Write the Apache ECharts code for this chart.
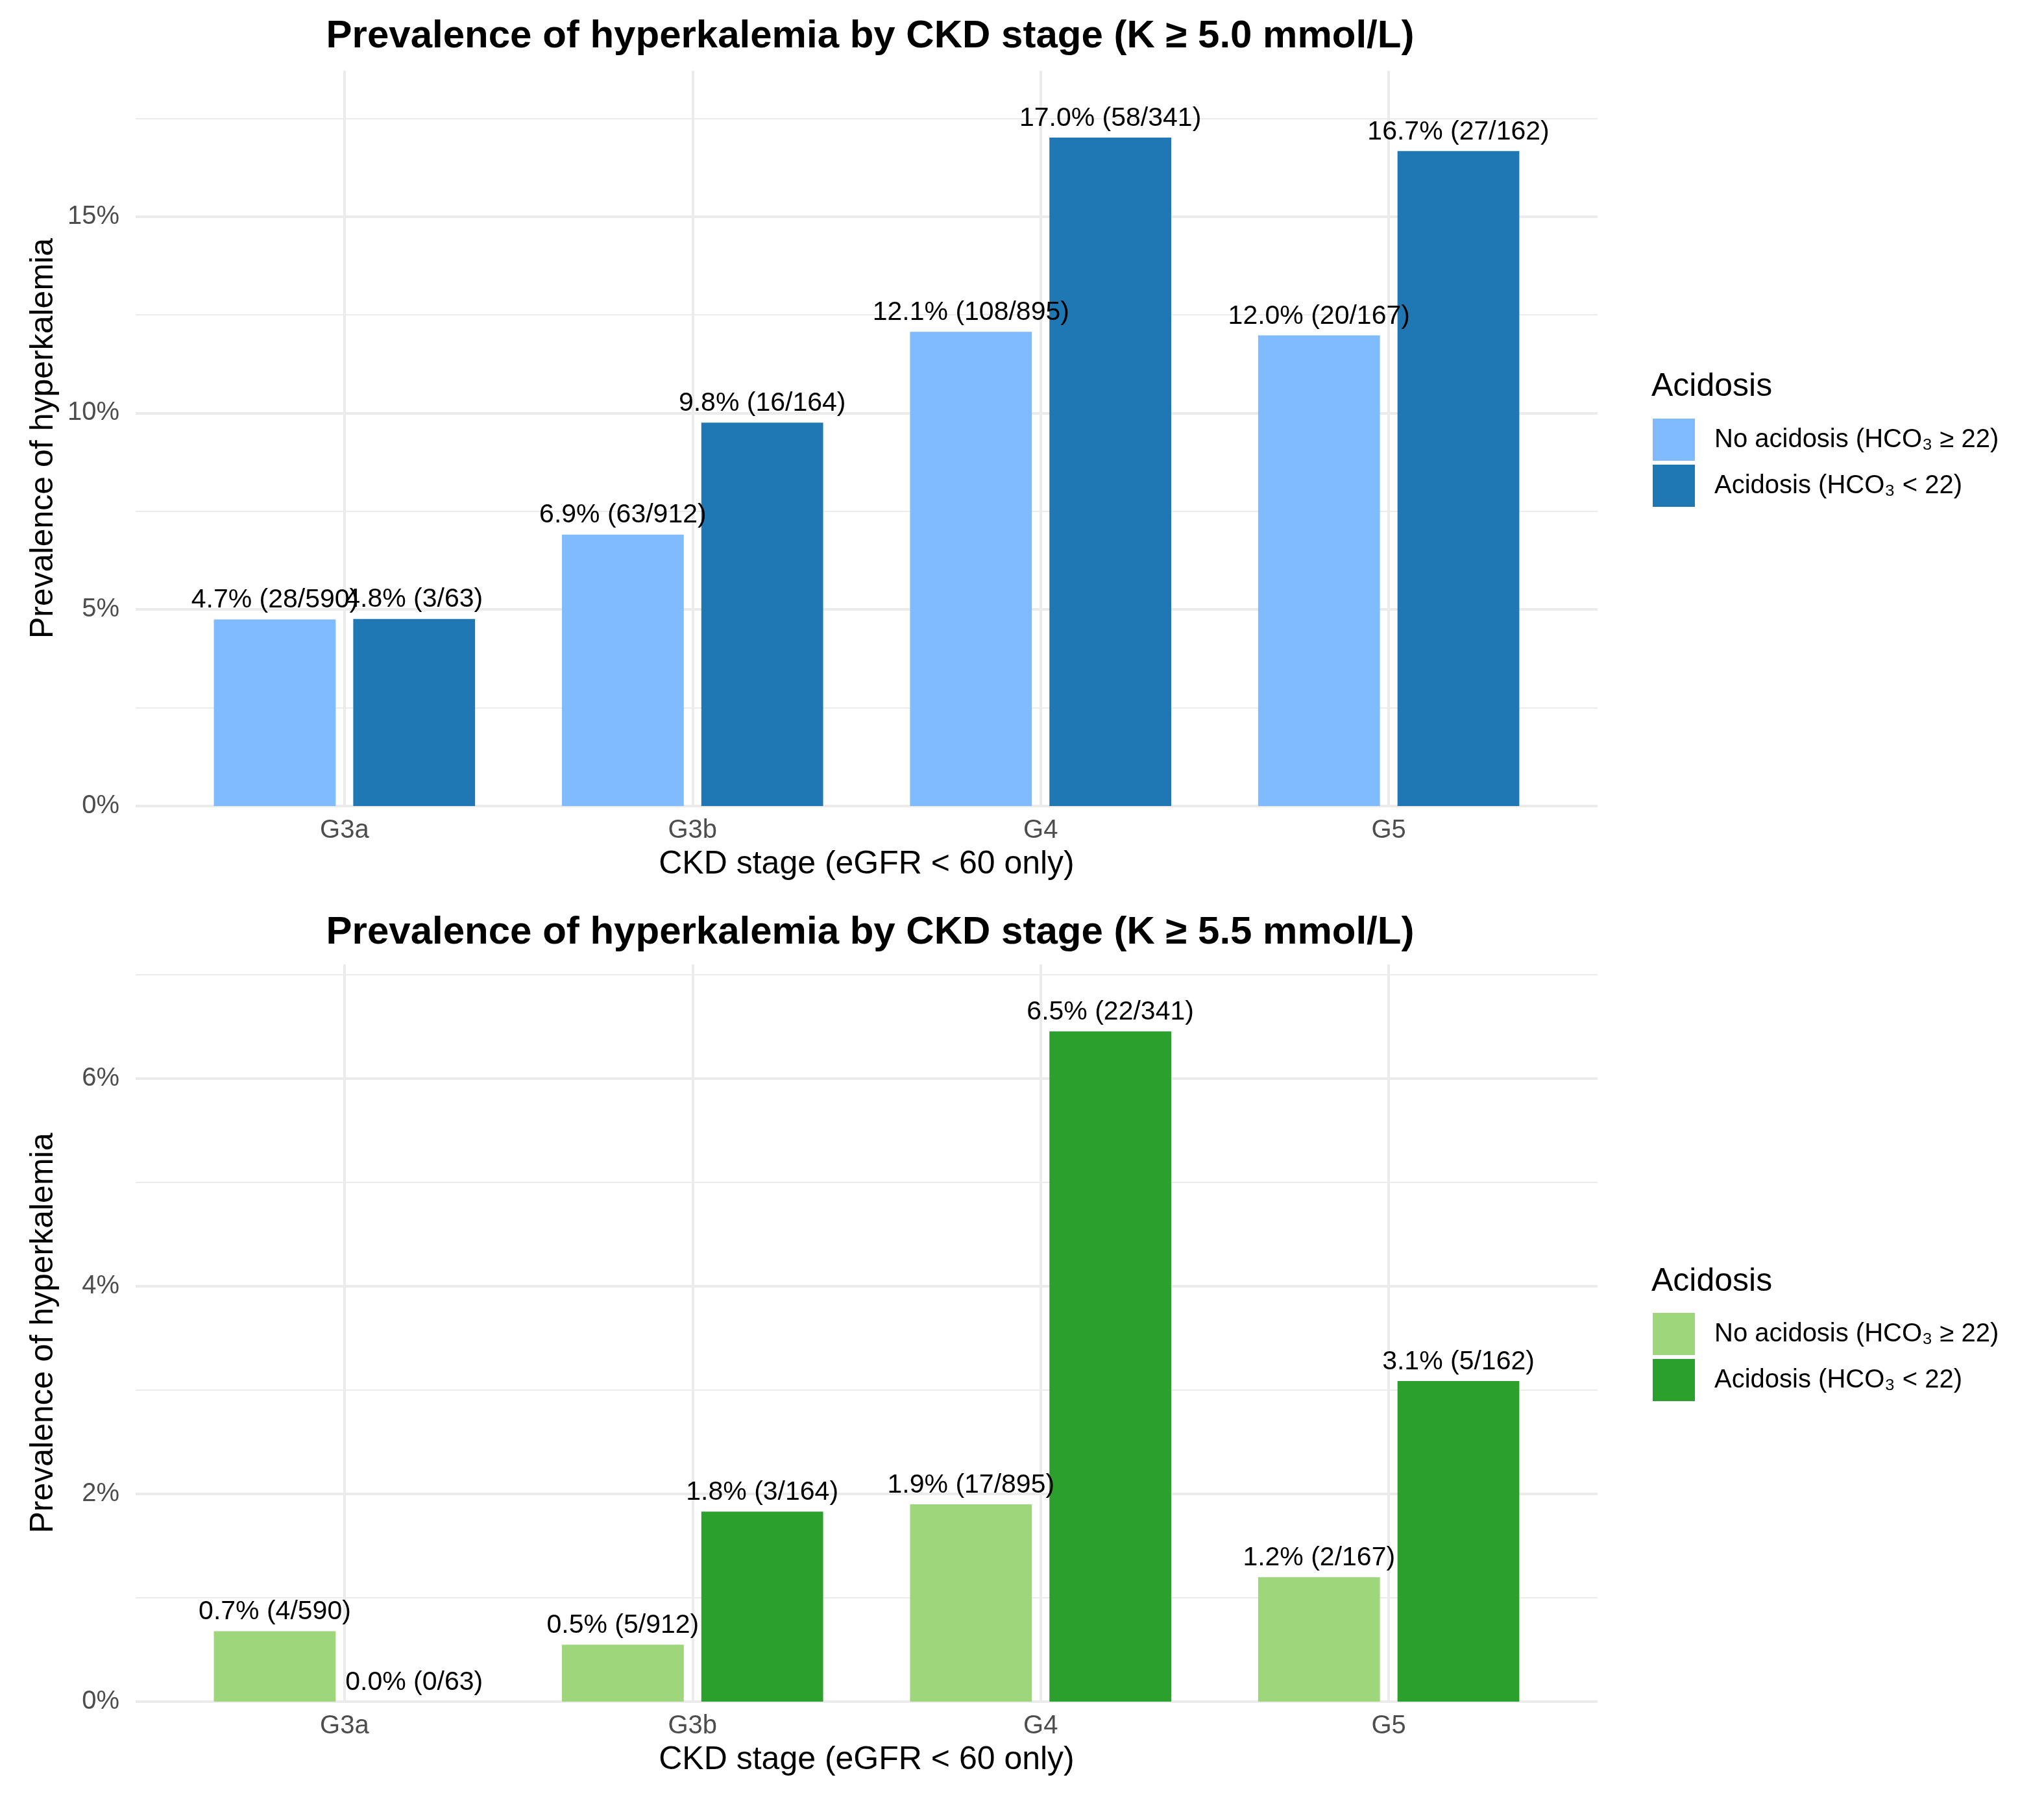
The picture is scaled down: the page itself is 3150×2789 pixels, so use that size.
<!DOCTYPE html>
<html>
<head>
<meta charset="utf-8">
<script src="https://cdn.jsdelivr.net/npm/echarts@6/dist/echarts.min.js"></script>
<style>
  html, body { margin: 0; padding: 0; background: #fff; }
  #chart { width: 3150px; height: 2789px; }
</style>
</head>
<body>
<div id="chart"></div>
<script>
// CKD stages (x categories)
var stages = ['G3a', 'G3b', 'G4', 'G5'];
var groupNames = ['No acidosis (HCO\u2083 \u2265 22)', 'Acidosis (HCO\u2083 < 22)'];

// K >= 5.0 mmol/L : cases / totals
var k50NoAcidCases = [28, 63, 108, 20];
var k50NoAcidTotal = [590, 912, 895, 167];
var k50AcidCases = [3, 16, 58, 27];
var k50AcidTotal = [63, 164, 341, 162];

// K >= 5.5 mmol/L : cases / totals
var k55NoAcidCases = [4, 5, 17, 2];
var k55NoAcidTotal = [590, 912, 895, 167];
var k55AcidCases = [0, 3, 22, 5];
var k55AcidTotal = [63, 164, 341, 162];

// y ticks (percent)
var topTicks = [0, 5, 10, 15];
var topMinor = [2.5, 7.5, 12.5, 17.5];
var botTicks = [0, 2, 4, 6];
var botMinor = [1, 3, 5, 7];

var FONT = "'Liberation Sans', Arial, 'DejaVu Sans', sans-serif";
var GRID_COL = '#EBEBEB';
var xPos = stages.map(function (s, i) { return i + 1; });

function pct(c, t) { return c.map(function (v, i) { return v / t[i] * 100; }); }

var panels = [
  {
    title: 'Prevalence of hyperkalemia by CKD stage (K \u2265 5.0 mmol/L)',
    cases: [k50NoAcidCases, k50AcidCases], totals: [k50NoAcidTotal, k50AcidTotal],
    colors: ['#80BAFF', '#1F77B4'], ticks: topTicks, minor: topMinor,
    gridTop: 109, gridBottom: 2789 - 1242, titleTop: 21, legendTop: 640, legendTitleTop: 566, suffix: ''
  },
  {
    title: 'Prevalence of hyperkalemia by CKD stage (K \u2265 5.5 mmol/L)',
    cases: [k55NoAcidCases, k55AcidCases], totals: [k55NoAcidTotal, k55AcidTotal],
    colors: ['#9ED67B', '#2CA02C'], ticks: botTicks, minor: botMinor,
    gridTop: 1486, gridBottom: 2789 - 2622, titleTop: 1402, legendTop: 2018, legendTitleTop: 1945, suffix: ' '
  }
];

var option = {
  animation: false,
  backgroundColor: '#fff',
  textStyle: { fontFamily: FONT },
  title: [], legend: [], grid: [], xAxis: [], yAxis: [], series: []
};

panels.forEach(function (p, k) {
  var vals = [pct(p.cases[0], p.totals[0]), pct(p.cases[1], p.totals[1])];
  var ymax = Math.max.apply(null, vals[0].concat(vals[1])) * 1.1;

  option.title.push({
    text: p.title, left: 1336, top: p.titleTop, textAlign: 'center',
    textStyle: { fontFamily: FONT, fontSize: 60, fontWeight: 'bold', color: '#000' }
  });
  option.title.push({
    text: 'Acidosis', left: 2540, top: p.legendTitleTop,
    textStyle: { fontFamily: FONT, fontSize: 50, fontWeight: 'normal', color: '#000' }
  });

  option.grid.push({ left: 209, right: 688, top: p.gridTop, bottom: p.gridBottom });

  option.xAxis.push({
    type: 'value', gridIndex: k, min: 0.4, max: 4.6,
    axisLine: { show: false },
    axisTick: { show: false, customValues: xPos },
    axisLabel: {
      customValues: xPos, margin: 18, fontSize: 40, color: '#4D4D4D', fontFamily: FONT,
      formatter: function (v) { return stages[Math.round(v) - 1] || ''; }
    },
    splitLine: { show: true, lineStyle: { color: GRID_COL, width: 4 } },
    name: 'CKD stage (eGFR < 60 only)', nameLocation: 'middle', nameGap: 65,
    nameTextStyle: { fontSize: 50, color: '#000', fontFamily: FONT }
  });

  option.yAxis.push({
    type: 'value', gridIndex: k, min: 0, max: ymax,
    axisLine: { show: false },
    axisTick: { show: false, customValues: p.ticks },
    axisLabel: {
      customValues: p.ticks, margin: 25, fontSize: 40, color: '#4D4D4D', fontFamily: FONT,
      formatter: function (v) { return v + '%'; }
    },
    splitLine: { show: true, lineStyle: { color: GRID_COL, width: 4 } },
    name: 'Prevalence of hyperkalemia', nameLocation: 'middle', nameRotate: 90, nameGap: 117,
    nameTextStyle: { fontSize: 50, color: '#000', fontFamily: FONT }
  });
  // minor grid lines
  option.yAxis.push({
    type: 'value', gridIndex: k, min: 0, max: ymax, position: 'left',
    axisLine: { show: false },
    axisTick: { show: false, customValues: p.minor },
    axisLabel: { show: false },
    splitLine: { show: true, lineStyle: { color: GRID_COL, width: 2 } }
  });

  var names = groupNames.map(function (n) { return n + p.suffix; });
  option.legend.push({
    orient: 'vertical', left: 2542, top: p.legendTop,
    itemWidth: 65, itemHeight: 65, itemGap: 6, icon: 'rect',
    data: names, selectedMode: false,
    textStyle: { fontFamily: FONT, fontSize: 40, color: '#000', padding: [0, 0, 0, 25] }
  });

  [0, 1].forEach(function (g) {
    var cases = p.cases[g], totals = p.totals[g], v = vals[g];
    option.series.push({
      type: 'bar', name: names[g], xAxisIndex: k, yAxisIndex: k * 2,
      barWidth: '35%', barGap: '14.4%',
      itemStyle: { color: p.colors[g] },
      data: xPos.map(function (x, i) { return [x, v[i]]; }),
      label: {
        show: true, position: 'top', distance: 9,
        fontFamily: FONT, fontSize: 41, color: '#000',
        formatter: function (d) {
          var i = d.dataIndex;
          return v[i].toFixed(1) + '% (' + cases[i] + '/' + totals[i] + ')';
        }
      }
    });
  });
});

var chart = echarts.init(document.getElementById('chart'));
chart.setOption(option);
</script>
</body>
</html>
